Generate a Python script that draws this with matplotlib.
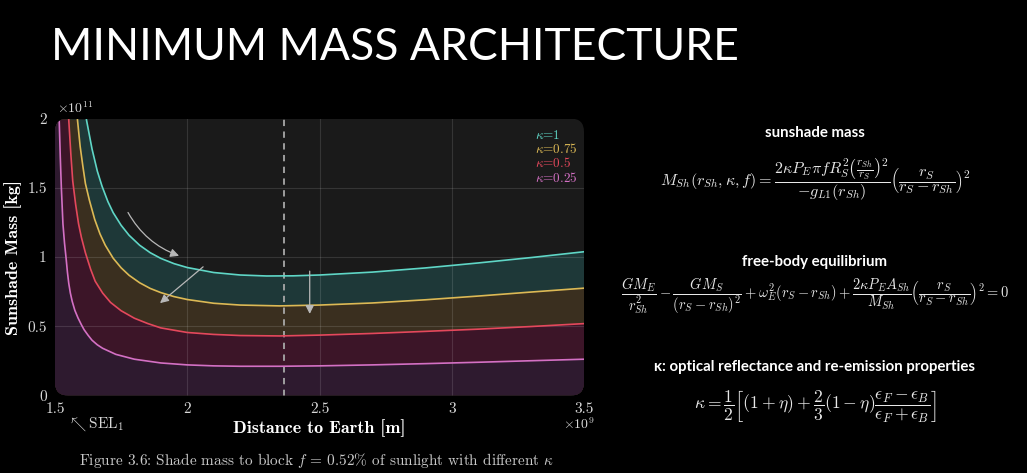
import numpy as np
import matplotlib
matplotlib.use('Agg')
import matplotlib.pyplot as plt
from matplotlib.patches import FancyBboxPatch, FancyArrowPatch

plt.rcParams['mathtext.fontset'] = 'cm'
plt.rcParams['axes.unicode_minus'] = False

# Datos (x en 1e9 m, masa en 1e11 kg)
kappas = ['1', '0.75', '0.5', '0.25']
colores = ['#5fd6c6', '#dcb955', '#e4485c', '#d470c4']
rellenos = ['#1e3838', '#3a2f1f', '#3c1528', '#2e1a2f']

x_k100 = [1.619, 1.63, 1.64, 1.65, 1.66, 1.678, 1.70, 1.72, 1.75, 1.78, 1.82, 1.86, 1.90, 1.95,
          2.0, 2.1, 2.2, 2.3, 2.4, 2.5, 2.7, 2.9, 3.1, 3.3, 3.5]
y_k100 = [1.99, 1.88, 1.78, 1.70, 1.62, 1.51, 1.40, 1.32, 1.229, 1.157, 1.085, 1.031, 0.99, 0.952,
          0.924, 0.888, 0.870, 0.863, 0.864, 0.870, 0.891, 0.921, 0.957, 0.996, 1.038]

x_k075 = [1.585, 1.595, 1.605, 1.615, 1.63, 1.65, 1.67, 1.69, 1.72, 1.75, 1.78, 1.82, 1.86, 1.90,
          1.95, 2.0, 2.1, 2.2, 2.35, 2.5, 2.7, 2.9, 3.1, 3.3, 3.5]
y_k075 = [1.99, 1.80, 1.66, 1.53, 1.41, 1.272, 1.167, 1.085, 0.991, 0.922, 0.868, 0.814, 0.773, 0.743,
          0.714, 0.693, 0.666, 0.653, 0.647, 0.653, 0.668, 0.691, 0.718, 0.747, 0.775]

x_k050 = [1.552, 1.56, 1.567, 1.578, 1.589, 1.60, 1.615, 1.635, 1.652, 1.68, 1.71, 1.75, 1.80, 1.85,
          1.90, 2.0, 2.1, 2.2, 2.35, 2.5, 2.7, 2.9, 3.1, 3.3, 3.5]
y_k050 = [1.99, 1.74, 1.55, 1.38, 1.24, 1.14, 1.03, 0.91, 0.825, 0.74, 0.672, 0.612, 0.558, 0.52,
          0.488, 0.455, 0.441, 0.433, 0.430, 0.436, 0.448, 0.463, 0.479, 0.498, 0.519]

x_k025 = [1.516, 1.52, 1.524, 1.53, 1.536, 1.542, 1.547, 1.552, 1.558, 1.565, 1.575, 1.587, 1.60,
          1.61, 1.625, 1.64, 1.66, 1.68, 1.73, 1.80, 1.90, 2.0, 2.1, 2.2, 2.35, 2.5, 2.7, 2.9, 3.1,
          3.3, 3.5]
y_k025 = [1.98, 1.72, 1.50, 1.24, 1.10, 0.99, 0.89, 0.81, 0.74, 0.68, 0.615, 0.56, 0.51,
          0.475, 0.435, 0.399, 0.366, 0.341, 0.297, 0.262, 0.235, 0.221, 0.214, 0.211, 0.211, 0.214,
          0.221, 0.230, 0.240, 0.251, 0.262]

x_series = [x_k100, x_k075, x_k050, x_k025]
y_series = [y_k100, y_k075, y_k050, y_k025]

x_sel = 2.366  # linea discontinua
xticks = [1.5, 2, 2.5, 3, 3.5]
xtick_labels = ['1.5', '2', '2.5', '3', '3.5']
yticks = [0, 0.5, 1, 1.5, 2]
ytick_labels = ['0', '0.5', '1', '1.5', '2']

# flechas (inicio, fin, curvatura)
flechas = [((1.771, 1.339), (1.979, 1.002), 0.2),
           ((2.068, 0.942), (1.889, 0.654), 0.0),
           ((2.463, 0.918), (2.463, 0.569), 0.0)]

W, H = 1027, 473
fig = plt.figure(figsize=(W / 100, H / 100), dpi=100, facecolor='black')

# ejes del grafico
x0, x1, ytop, ybot = 55, 584, 118.5, 395.5
ax = fig.add_axes([x0 / W, 1 - ybot / H, (x1 - x0) / W, (ybot - ytop) / H])
ax.set_facecolor('none')
ax.set_xlim(1.5, 3.5)
ax.set_ylim(0, 2)
for s in ax.spines.values():
    s.set_visible(False)

panel = FancyBboxPatch((0, 0), 1, 1, boxstyle='round,pad=0,rounding_size=0.025',
                       mutation_aspect=(x1 - x0) / (ybot - ytop),
                       transform=ax.transAxes, facecolor='#1a1a1a', edgecolor='none', zorder=0)
ax.add_patch(panel)

for i, (xs, ys) in enumerate(zip(x_series, y_series)):
    px = np.r_[1.5, 1.5, xs, xs[-1]]
    py = np.r_[0, 2, ys, 0]
    f = ax.fill(px, py, color=rellenos[i], zorder=1 + i, lw=0)[0]
    f.set_clip_path(panel)

for g in [2, 2.5, 3]:
    l = ax.axvline(g, color='white', alpha=0.12, lw=0.8, zorder=6)
    l.set_clip_path(panel)
for g in [0.5, 1, 1.5]:
    l = ax.axhline(g, color='white', alpha=0.12, lw=0.8, zorder=6)
    l.set_clip_path(panel)

for i, (xs, ys) in enumerate(zip(x_series, y_series)):
    ln = ax.plot(xs, ys, color=colores[i], lw=1.2, zorder=8, solid_joinstyle='round')[0]
    ln.set_clip_path(panel)

dl = ax.axvline(x_sel, color='#a8a8a8', lw=1.3, ls=(0, (3.5, 3)), zorder=7)
dl.set_clip_path(panel)

for (a, b, rad) in flechas:
    ar = FancyArrowPatch(a, b, arrowstyle='-|>,head_length=5,head_width=2.5',
                         connectionstyle=f'arc3,rad={rad}', color='#b8b8b8',
                         lw=0.9, zorder=9, mutation_scale=1)
    ax.add_patch(ar)

ax.set_xticks(xticks)
ax.set_xticklabels(xtick_labels)
ax.set_yticks(yticks)
ax.set_yticklabels(ytick_labels)
ax.tick_params(axis='x', length=0, colors='#d8d8d8', labelsize=11, pad=5)
ax.tick_params(axis='y', length=0, colors='#d8d8d8', labelsize=11, pad=6)
for t in ax.get_xticklabels() + ax.get_yticklabels():
    t.set_fontfamily('cmr10')
ax.grid(False)

ax.set_xlabel('Distance to Earth [m]', fontfamily='cmb10', fontsize=13, color='white', labelpad=2)
ax.set_ylabel('Sunshade Mass [kg]', fontfamily='cmb10', fontsize=13, color='white', labelpad=4)

for i, k in enumerate(kappas):
    ax.text(0.908, 0.94 - i * 0.051, r'$\kappa$=' + k, transform=ax.transAxes,
            color=colores[i], fontsize=9.5, fontfamily='cmr10', va='center', zorder=10)

fig.text(57 / W, 1 - 108 / H, r'$\times10^{11}$', color='#d8d8d8', fontsize=10, va='center')
fig.text(563 / W, 1 - 424 / H, r'$\times10^{9}$', color='#d8d8d8', fontsize=10, va='center')
fig.text(68 / W, 1 - 424 / H, r'$\nwarrow\mathrm{SEL}_1$', color='#d8d8d8', fontsize=11, va='center')
fig.text(316 / W, 1 - 460 / H, r'Figure 3.6: Shade mass to block $f$ = 0.52% of sunlight with different $\kappa$',
         fontfamily='cmr10', color='#c8c8c8', fontsize=11, ha='center', va='center')

# titulo
fig.text(51 / W, 1 - 48 / H, 'MINIMUM MASS ARCHITECTURE', color='white', fontsize=32,
         fontfamily='Lato', fontweight='normal', va='center', ha='left')

# ecuaciones
cx = 815 / W
fig.text(cx, 1 - 133 / H, 'sunshade mass', color='white', fontsize=10.8, fontweight='bold',
         fontfamily='Lato', ha='center', va='center')
fig.text(cx, 1 - 180 / H,
         r'$M_{Sh}(r_{Sh},\kappa,f) = \dfrac{2\kappa P_E\pi f R_S^2\left(\frac{r_{Sh}}{r_S}\right)^2}{-g_{L1}(r_{Sh})}\left(\dfrac{r_S}{r_S-r_{Sh}}\right)^2$',
         color='#e8e8e8', fontsize=11.6, ha='center', va='center')
fig.text(cx, 1 - 262 / H, 'free-body equilibrium', color='white', fontsize=10.8, fontweight='bold',
         fontfamily='Lato', ha='center', va='center')
fig.text(cx, 1 - 296 / H,
         r'$\dfrac{GM_E}{r_{Sh}^2}-\dfrac{GM_S}{(r_S-r_{Sh})^2}+\omega_E^2(r_S-r_{Sh})+\dfrac{2\kappa P_E A_{Sh}}{M_{Sh}}\left(\dfrac{r_S}{r_S-r_{Sh}}\right)^2=0$',
         color='#e8e8e8', fontsize=10.4, ha='center', va='center')
fig.text(cx, 1 - 367 / H, 'κ: optical reflectance and re-emission properties', color='white', fontsize=10.8,
         fontweight='bold', fontfamily='Lato', ha='center', va='center')
fig.text(cx, 1 - 406 / H,
         r'$\kappa=\dfrac{1}{2}\left[(1+\eta)+\dfrac{2}{3}(1-\eta)\dfrac{\epsilon_F-\epsilon_B}{\epsilon_F+\epsilon_B}\right]$',
         color='#e8e8e8', fontsize=12.6, ha='center', va='center')

fig.savefig('out.png', dpi=100, facecolor='black')
